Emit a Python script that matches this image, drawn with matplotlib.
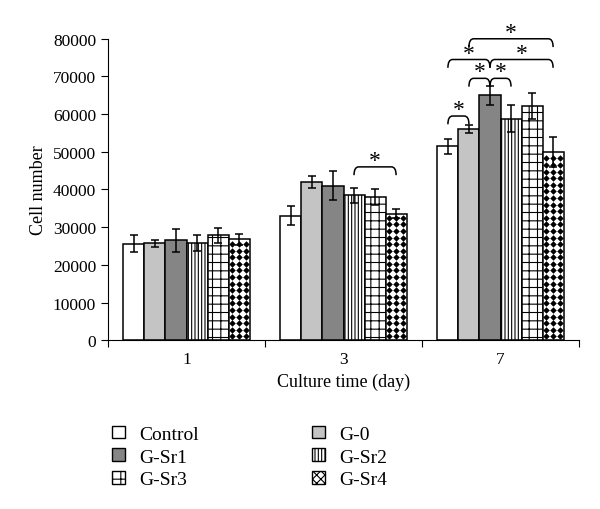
import matplotlib
matplotlib.use("Agg")
import matplotlib.pyplot as plt
import numpy as np
from matplotlib.path import Path
from matplotlib.patches import PathPatch, Patch

plt.rcParams['font.family'] = ['Liberation Serif', 'DejaVu Serif']
plt.rcParams['hatch.linewidth'] = 0.8

days = ['1', '3', '7']
groups = ['Control', 'G-0', 'G-Sr1', 'G-Sr2', 'G-Sr3', 'G-Sr4']
means = {
    'Control': [25600, 33000, 51500],
    'G-0': [25700, 42000, 56000],
    'G-Sr1': [26500, 41000, 65000],
    'G-Sr2': [25800, 38500, 58800],
    'G-Sr3': [27800, 38000, 62200],
    'G-Sr4': [26800, 33500, 50000],
}
errs = {
    'Control': [2300, 2500, 2000],
    'G-0': [1000, 1500, 1000],
    'G-Sr1': [3000, 3800, 2500],
    'G-Sr2': [2000, 2000, 3500],
    'G-Sr3': [2000, 2000, 3500],
    'G-Sr4': [1500, 1200, 4000],
}
# (day index, bar a, bar b, bracket level)
brackets = [
    (1, 3, 5, 46000),
    (2, 0, 1, 59500),
    (2, 1, 2, 69500),
    (2, 2, 3, 69500),
    (2, 0, 2, 74500),
    (2, 2, 5, 74500),
    (2, 1, 5, 80000),
]

styles = {
    'Control': dict(color='white', hatch=None),
    'G-0': dict(color='#c4c4c4', hatch=None),
    'G-Sr1': dict(color='#858585', hatch=None),
    'G-Sr2': dict(color='white', hatch='|||||'),
    'G-Sr3': dict(color='white', hatch='++'),
    'G-Sr4': dict(color='white', hatch=None),
}

fig = plt.figure(figsize=(6, 5.1), dpi=100)
ax = fig.add_axes([0.18, 0.331, 0.785, 0.591])

w = 0.134
x = np.arange(len(days))
for i, g in enumerate(groups):
    xi = x + (i - 2.5) * w
    st = styles[g]
    bars = ax.bar(xi, means[g], w, color=st['color'], hatch=st['hatch'],
                  edgecolor='black', linewidth=1.1, zorder=2)
    if g == 'G-Sr4':
        # black diamond pattern inside the bars
        for b, m in zip(bars, means[g]):
            xs, ys = [], []
            for yy in np.arange(1000, m, 1750):
                for xx in np.arange(b.get_x() + w / 6, b.get_x() + w, w / 3):
                    xs.append(xx)
                    ys.append(yy)
            sc = ax.scatter(xs, ys, marker='D', s=11, color='black', linewidths=0, zorder=3)
            sc.set_clip_path(b)
    ax.errorbar(xi, means[g], yerr=errs[g], fmt='none', ecolor='black',
                elinewidth=1.1, capsize=3, capthick=1.1, zorder=4)

drop = 2200
r = 0.03
for d, a, b, lev in brackets:
    x1 = x[d] + (a - 2.5) * w
    x2 = x[d] + (b - 2.5) * w
    verts = [(x1, lev - drop), (x1, lev), (x1 + r, lev), (x2 - r, lev), (x2, lev), (x2, lev - drop)]
    codes = [Path.MOVETO, Path.CURVE3, Path.CURVE3, Path.LINETO, Path.CURVE3, Path.CURVE3]
    ax.add_patch(PathPatch(Path(verts, codes), fill=False, lw=1.1, edgecolor='black', clip_on=False))
    ax.text((x1 + x2) / 2, lev + 1700, '*', ha='center', va='center', fontsize=17, clip_on=False)

ax.set_xlim(-0.5, 2.5)
ax.set_ylim(0, 80000)
ax.set_yticks(np.arange(0, 80001, 10000))
ax.set_xticks([-0.5, 0.5, 1.5, 2.5])
ax.set_xticklabels([])
ax.set_xticks(x, minor=True)
ax.set_xticklabels(days, minor=True, fontsize=12.5)
ax.tick_params(axis='x', which='minor', length=0, pad=8)
ax.tick_params(axis='both', which='major', direction='out', length=5, labelsize=12.5)
ax.spines['top'].set_visible(False)
ax.spines['right'].set_visible(False)
ax.set_ylabel('Cell number', fontsize=13)
ax.set_xlabel('Culture time (day)', fontsize=13, labelpad=4)

handles = {}
for g in groups:
    st = styles[g]
    handles[g] = Patch(facecolor=st['color'], hatch=st['hatch'] if g != 'G-Sr4' else 'xxxx',
                       edgecolor='black', linewidth=1.0)
order = ['Control', 'G-Sr1', 'G-Sr3', 'G-0', 'G-Sr2', 'G-Sr4']
fig.legend([handles[g] for g in order], order, ncol=2, loc='upper left',
           bbox_to_anchor=(0.158, 0.198), frameon=False, fontsize=14,
           handlelength=0.65, handleheight=0.65, handletextpad=0.75,
           columnspacing=5.8, labelspacing=0.28)

fig.savefig('out.png', dpi=100)
